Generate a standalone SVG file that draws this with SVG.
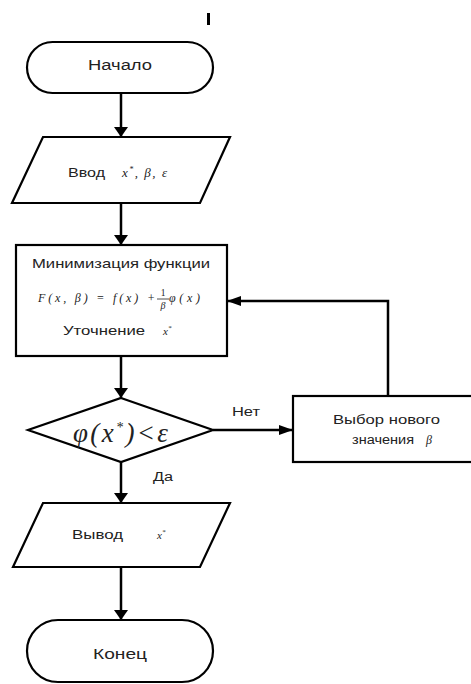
<svg xmlns="http://www.w3.org/2000/svg" width="471" height="684" viewBox="0 0 471 684">
<style>
.shape{fill:#fff;stroke:#000;stroke-width:2.2}
.line{fill:none;stroke:#000;stroke-width:2.5}
.t{font-family:"Liberation Sans",Arial,sans-serif;fill:#222}
.m{font-family:"Liberation Serif","Times New Roman",serif;font-style:italic;fill:#222}
.u{font-family:"Liberation Serif","Times New Roman",serif;fill:#222}
</style>
<defs>
<marker id="ah" markerWidth="10" markerHeight="14" refX="10" refY="7" orient="auto" markerUnits="userSpaceOnUse">
<path d="M0,0 L10,7 L0,14 Z" fill="#000"/>
</marker>
<marker id="ahs" markerWidth="14" markerHeight="10" refX="14" refY="5" orient="auto" markerUnits="userSpaceOnUse">
<path d="M0,0 L14,5 L0,10 Z" fill="#000"/>
</marker>
</defs>
<rect x="207" y="13" width="3" height="12" fill="#000"/>
<g id="connectors">
<line class="line" x1="121" y1="93" x2="121" y2="137" marker-end="url(#ah)"/>
<line class="line" x1="121" y1="203" x2="121" y2="245" marker-end="url(#ah)"/>
<line class="line" x1="121" y1="356" x2="121" y2="398" marker-end="url(#ah)"/>
<line class="line" x1="213" y1="430" x2="293" y2="430" marker-end="url(#ahs)"/>
<polyline class="line" points="388,396 388,301 227,301" marker-end="url(#ahs)"/>
<line class="line" x1="121" y1="462" x2="121" y2="503" marker-end="url(#ah)"/>
<line class="line" x1="121" y1="567" x2="121" y2="620" marker-end="url(#ah)"/>
<text class="t" x="232" y="416" font-size="12" textLength="28" lengthAdjust="spacingAndGlyphs">Нет</text>
<text class="t" x="153" y="481" font-size="12" textLength="20" lengthAdjust="spacingAndGlyphs">Да</text>
</g>
<g id="start">
<rect class="shape" x="27" y="42" width="186" height="51" rx="25.5" ry="25.5"/>
<text class="t" x="88" y="70" font-size="14" textLength="64" lengthAdjust="spacingAndGlyphs">Начало</text>
</g>
<g id="input">
<polygon class="shape" points="43,137 230,137 200,203 12,203"/>
<text class="t" x="68" y="177" font-size="12" textLength="37" lengthAdjust="spacingAndGlyphs">Ввод</text>
<text class="m" x="122" y="177" font-size="13" textLength="45" lengthAdjust="spacing">x<tspan dy="-5" font-size="8" class="u">*</tspan><tspan dy="5" class="u">, </tspan>β<tspan class="u">, </tspan>ε</text>
</g>
<g id="minimize">
<rect class="shape" x="16" y="245" width="211" height="111"/>
<text class="t" x="32" y="268" font-size="13" textLength="178" lengthAdjust="spacingAndGlyphs">Минимизация функции</text>
<text class="m" x="38" y="302" font-size="12" textLength="117" lengthAdjust="spacing">F<tspan class="u">(</tspan>x<tspan class="u">, </tspan>β<tspan class="u">) = </tspan>f<tspan class="u">(</tspan>x<tspan class="u">) + </tspan></text>
<text class="u" x="163" y="296" font-size="9.5" text-anchor="middle">1</text>
<line x1="157" y1="299" x2="169" y2="299" stroke="#222" stroke-width="0.8"/>
<text class="m" x="163" y="309" font-size="10" text-anchor="middle">β</text>
<text class="m" x="169" y="302" font-size="12" textLength="31" lengthAdjust="spacing">φ<tspan class="u">(</tspan>x<tspan class="u">)</tspan></text>
<text class="t" x="63" y="335" font-size="13" textLength="82" lengthAdjust="spacingAndGlyphs">Уточнение</text>
<text class="m" x="163" y="335" font-size="11">x<tspan dy="-5" font-size="7" class="u">*</tspan></text>
</g>
<g id="decision">
<polygon class="shape" points="121,398 213,430 121,462 28,430"/>
<text class="m" x="73" y="442" font-size="27" textLength="95" lengthAdjust="spacing">φ<tspan class="u">(</tspan>x<tspan dy="-10" font-size="14" class="u">*</tspan><tspan dy="10" class="u">)&lt;</tspan>ε</text>
</g>
<g id="newbeta">
<rect class="shape" x="293" y="396" width="185" height="66"/>
<text class="t" x="333" y="424" font-size="12" textLength="107" lengthAdjust="spacingAndGlyphs">Выбор нового</text>
<text class="t" x="352" y="444" font-size="12" textLength="62" lengthAdjust="spacingAndGlyphs">значения</text>
<text class="m" x="426" y="444" font-size="12">β</text>
</g>
<g id="output">
<polygon class="shape" points="43,503 230,503 200,567 13,567"/>
<text class="t" x="72" y="539" font-size="12" textLength="51" lengthAdjust="spacingAndGlyphs">Вывод</text>
<text class="m" x="157" y="539" font-size="11">x<tspan dy="-5" font-size="7" class="u">*</tspan></text>
</g>
<g id="end">
<rect class="shape" x="27" y="620" width="186" height="62" rx="31" ry="31"/>
<text class="t" x="93" y="659" font-size="14" textLength="54" lengthAdjust="spacingAndGlyphs">Конец</text>
</g>
</svg>
